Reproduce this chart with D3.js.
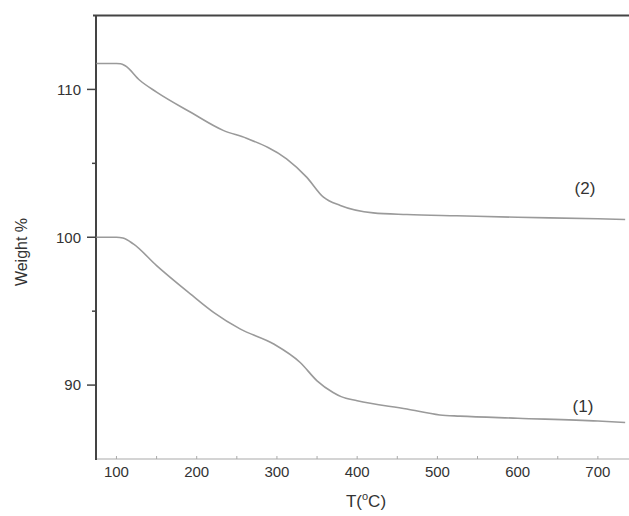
<!DOCTYPE html>
<html>
<head>
<meta charset="utf-8">
<script src="https://cdn.jsdelivr.net/npm/d3@7"></script>
<style>
  body { margin: 0; background: #fff; }
  svg { display: block; }
  text { font-family: "Liberation Sans", Arial, sans-serif; fill: #333; }
</style>
</head>
<body>
<div id="chart"></div>
<script>
// temperatures (°C) and weight %
var temp1 = [75, 100, 108, 121, 150, 192, 221, 254, 296, 329, 350, 370, 380, 400, 462, 503, 528, 600, 700, 734];
var weight1 = [100, 100, 99.95, 99.55, 98.08, 96.17, 94.92, 93.8, 92.78, 91.53, 90.29, 89.5, 89.22, 88.94, 88.38, 87.98, 87.9, 87.76, 87.57, 87.47];

var temp2 = [75, 100, 105, 111, 129, 150, 192, 233, 262, 312, 337, 358, 379, 420, 462, 524, 600, 700, 734];
var weight2 = [111.75, 111.75, 111.74, 111.6, 110.62, 109.82, 108.47, 107.23, 106.7, 105.3, 104.07, 102.71, 102.15, 101.65, 101.54, 101.45, 101.35, 101.25, 101.2];

var xTicks = [100, 200, 300, 400, 500, 600, 700];
var xMinor = [150, 250, 350, 450, 550, 650];
var yTicks = [90, 100, 110];
var yMinor = [95, 105];

var width = 629, height = 516;
var plotL = 96, plotT = 15.5, plotR = 638, plotB = 459;

var svg = d3.select("#chart").append("svg")
    .attr("width", width)
    .attr("height", height);

var x = d3.scaleLinear().domain([74.5, 750]).range([plotL, plotR]);
var y = d3.scaleLinear().domain([85, 115]).range([plotB, plotT]);

// x axis, thin grey
var gx = svg.append("g").attr("transform", "translate(0," + plotB + ")");
gx.append("line")
    .attr("x1", plotL).attr("x2", width)
    .attr("stroke", "#aaa").attr("stroke-width", 1.2);
gx.selectAll(".xt")
    .data(xTicks.concat(xMinor))
    .enter().append("line")
    .attr("x1", function (d) { return x(d); })
    .attr("x2", function (d) { return x(d); })
    .attr("y1", 0).attr("y2", -3)
    .attr("stroke", "#aaa").attr("stroke-width", 1);
gx.selectAll(".xl")
    .data(xTicks)
    .enter().append("text")
    .attr("x", function (d) { return x(d); })
    .attr("y", 18)
    .attr("text-anchor", "middle")
    .style("font-size", "15px")
    .text(function (d) { return d; });

// top frame line
svg.append("line")
    .attr("x1", plotL - 3).attr("x2", width)
    .attr("y1", plotT).attr("y2", plotT)
    .attr("stroke", "#444").attr("stroke-width", 2);

// y axis, dark
var gy = svg.append("g");
gy.append("line")
    .attr("x1", plotL).attr("x2", plotL)
    .attr("y1", plotT).attr("y2", plotB + 1)
    .attr("stroke", "#444").attr("stroke-width", 2);
gy.selectAll(".yt")
    .data(yTicks)
    .enter().append("line")
    .attr("x1", plotL - 9).attr("x2", plotL)
    .attr("y1", function (d) { return y(d); })
    .attr("y2", function (d) { return y(d); })
    .attr("stroke", "#444").attr("stroke-width", 1.5);
gy.selectAll(".ym")
    .data(yMinor)
    .enter().append("line")
    .attr("x1", plotL - 4).attr("x2", plotL)
    .attr("y1", function (d) { return y(d); })
    .attr("y2", function (d) { return y(d); })
    .attr("stroke", "#444").attr("stroke-width", 1.5);
gy.selectAll(".yl")
    .data(yTicks)
    .enter().append("text")
    .attr("x", plotL - 15)
    .attr("y", function (d) { return y(d); })
    .attr("dy", "0.35em")
    .attr("text-anchor", "end")
    .style("font-size", "15px")
    .text(function (d) { return d; });

// axis titles
svg.append("text")
    .attr("transform", "translate(27,252) rotate(-90)")
    .attr("text-anchor", "middle")
    .style("font-size", "16px")
    .text("Weight %");

var xt = svg.append("text")
    .attr("x", 366)
    .attr("y", 507)
    .attr("text-anchor", "middle")
    .style("font-size", "17px");
xt.append("tspan").text("T(");
xt.append("tspan").attr("dy", -7).style("font-size", "11px").text("o");
xt.append("tspan").attr("dy", 7).text("C)");

// curves
var line = d3.line()
    .x(function (d) { return x(d[0]); })
    .y(function (d) { return y(d[1]); })
    .curve(d3.curveMonotoneX);

var series = [d3.zip(temp1, weight1), d3.zip(temp2, weight2)];
svg.append("g").selectAll("path")
    .data(series)
    .enter().append("path")
    .attr("d", line)
    .attr("fill", "none")
    .attr("stroke", "#9a9a9a")
    .attr("stroke-width", 1.6);

// curve labels
svg.append("text").attr("x", 583).attr("y", 412)
    .attr("text-anchor", "middle").style("font-size", "17px").text("(1)");
svg.append("text").attr("x", 585).attr("y", 194)
    .attr("text-anchor", "middle").style("font-size", "17px").text("(2)");
</script>
</body>
</html>
